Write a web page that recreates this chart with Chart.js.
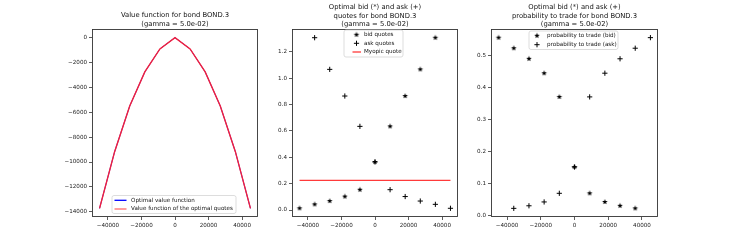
<!DOCTYPE html>
<html lang="en">
<head>
    <meta charset="UTF-8">
    <title>Optimal quotes for bond BOND.3</title>
    <style>
        * {
            margin: 0;
            padding: 0;
            box-sizing: border-box;
        }
        body {
            background-color: #fff;
        }
        .figure {
            position: relative;
            width: 731px;
            height: 244px;
        }
        .figure canvas {
            position: absolute;
            left: 0;
            top: 0;
        }
    </style>
</head>
<body>

<div class="figure">
    <canvas id="valueChart" width="731" height="244"></canvas>
    <canvas id="quotesChart" width="731" height="244"></canvas>
    <canvas id="probaChart" width="731" height="244"></canvas>
</div>

<script src="https://cdn.jsdelivr.net/npm/chart.js@4.4.0/dist/chart.umd.min.js"></script>

<script>
// inventory grid (x axis of every panel)
const inventory = [-45000, -36000, -27000, -18000, -9000, 0, 9000, 18000, 27000, 36000, 45000];

// panel 1 - value function
const optimalValue = [-13730, -9170, -5500, -2760, -910, 0, -910, -2760, -5500, -9170, -13730];
const quotesValue  = [-13730, -9170, -5500, -2760, -910, 0, -910, -2760, -5500, -9170, -13730];

// panel 2 - quotes
const bidQuotes = [0.013, 0.043, 0.068, 0.102, 0.154, 0.364, 0.634, 0.864, 1.066, 1.306, null];
const askQuotes = [null, 1.306, 1.066, 0.864, 0.634, 0.364, 0.154, 0.102, 0.068, 0.043, 0.013];
const myopicQuote = 0.225;

// panel 3 - probability to trade
const bidProba = [0.556, 0.523, 0.490, 0.445, 0.371, 0.152, 0.070, 0.043, 0.031, 0.023, null];
const askProba = [null, 0.023, 0.031, 0.043, 0.070, 0.152, 0.371, 0.445, 0.490, 0.523, 0.556];

// tick labels
const xTicks = [-40000, -20000, 0, 20000, 40000];
const yTicksValue = [0, -2000, -4000, -6000, -8000, -10000, -12000, -14000];
const yTicksQuotes = [0.0, 0.2, 0.4, 0.6, 0.8, 1.0, 1.2];
const yTicksProba = [0.0, 0.1, 0.2, 0.3, 0.4, 0.5];

const FONT = "'DejaVu Sans', sans-serif";

function points(values) {
    return inventory.map((q, i) => ({ x: q, y: values[i] }));
}

function fmtInt(v) {
    return v < 0 ? '\u2212' + Math.abs(v) : String(v);
}

// filled star like matplotlib '*'
function makeStar(r) {
    const c = document.createElement('canvas');
    const size = Math.ceil(r * 2 + 2);
    c.width = size;
    c.height = size;
    const ctx = c.getContext('2d');
    ctx.fillStyle = '#000';
    ctx.beginPath();
    for (let k = 0; k < 10; k++) {
        const rad = k % 2 === 0 ? r : r * 0.42;
        const a = -Math.PI / 2 + k * Math.PI / 5;
        const px = size / 2 + rad * Math.cos(a);
        const py = size / 2 + rad * Math.sin(a);
        if (k === 0) ctx.moveTo(px, py); else ctx.lineTo(px, py);
    }
    ctx.closePath();
    ctx.fill();
    return c;
}
const starImg = makeStar(2.9);

// frame, titles and legend drawn like matplotlib
const decorPlugin = {
    id: 'decor',
    afterDraw(chart, args, opts) {
        const ctx = chart.ctx;
        const a = chart.chartArea;
        ctx.save();

        ctx.strokeStyle = '#333';
        ctx.lineWidth = 0.9;
        ctx.strokeRect(a.left + 0.5, a.top + 0.5, a.right - a.left - 1, a.bottom - a.top - 1);

        ctx.fillStyle = '#111';
        ctx.font = '6.8px ' + FONT;
        ctx.textAlign = 'center';
        ctx.textBaseline = 'middle';
        const cx = (a.left + a.right) / 2;
        opts.title.forEach((line, i) => ctx.fillText(line, cx, opts.titleY[i]));

        const lg = opts.legend;
        ctx.beginPath();
        ctx.roundRect(lg.x0, lg.y0, lg.x1 - lg.x0, lg.y1 - lg.y0, 2);
        ctx.fillStyle = 'rgba(255,255,255,0.85)';
        ctx.fill();
        ctx.strokeStyle = '#d4d4d4';
        ctx.lineWidth = 0.8;
        ctx.stroke();

        ctx.font = '5.6px ' + FONT;
        ctx.textAlign = 'left';
        lg.items.forEach((it, i) => {
            const y = lg.rows[i];
            if (it.type === 'line') {
                ctx.strokeStyle = it.color;
                ctx.lineWidth = 1.3;
                ctx.beginPath();
                ctx.moveTo(lg.h0, y);
                ctx.lineTo(lg.h1, y);
                ctx.stroke();
            } else if (it.type === 'star') {
                ctx.drawImage(starImg, lg.mx - starImg.width / 2, y - starImg.height / 2);
            } else {
                ctx.strokeStyle = '#000';
                ctx.lineWidth = 1;
                ctx.beginPath();
                ctx.moveTo(lg.mx - 2.6, y);
                ctx.lineTo(lg.mx + 2.6, y);
                ctx.moveTo(lg.mx, y - 2.6);
                ctx.lineTo(lg.mx, y + 2.6);
                ctx.stroke();
            }
            ctx.fillStyle = '#111';
            ctx.fillText(it.label, lg.tx, y);
        });
        ctx.restore();
    }
};

function axes(left, right, yMin, yMax, yTicks, yFmt) {
    const tickFont = { family: FONT, size: 5.6 };
    const grid = { display: true, drawOnChartArea: false, drawTicks: true, tickLength: 3, color: '#333', lineWidth: 0.8 };
    return {
        layout: { padding: { left: left - 40, right: 731 - right, top: 29, bottom: 7 } },
        scales: {
            x: {
                type: 'linear', min: -49500, max: 49500,
                grid: grid, border: { display: false },
                afterBuildTicks: s => { s.ticks = xTicks.map(v => ({ value: v })); },
                afterFit: s => { s.height = 20; },
                ticks: { font: tickFont, color: '#222', padding: 2, maxRotation: 0, callback: fmtInt }
            },
            y: {
                type: 'linear', min: yMin, max: yMax,
                grid: grid, border: { display: false },
                afterBuildTicks: s => { s.ticks = yTicks.map(v => ({ value: v })); },
                afterFit: s => { s.width = 40; },
                ticks: { font: tickFont, color: '#222', padding: 2, callback: yFmt }
            }
        }
    };
}

function makeChart(id, datasets, ax, decor) {
    new Chart(document.getElementById(id), {
        type: 'scatter',
        data: { datasets: datasets },
        options: Object.assign({
            responsive: false,
            animation: false,
            devicePixelRatio: 1,
            plugins: { legend: { display: false }, tooltip: { enabled: false }, decor: decor }
        }, ax),
        plugins: [decorPlugin]
    });
}

// Panel 1 (blue curve sits under the red one)
makeChart('valueChart', [
    { label: 'Optimal value function', data: points(optimalValue), showLine: true,
      borderColor: '#0000ff', borderWidth: 0.8, pointRadius: 0, order: 2 },
    { label: 'Value function of the optimal quotes', data: points(quotesValue), showLine: true,
      borderColor: '#f0203c', borderWidth: 1.4, pointRadius: 0, order: 1 }
], axes(92, 258, -14420, 690, yTicksValue, fmtInt), {
    title: ['Value function for bond BOND.3', '(gamma = 5.0e-02)'],
    titleY: [15.3, 24],
    legend: {
        x0: 112, y0: 195.5, x1: 236, y1: 213.5, rows: [200.3, 209], h0: 114.5, h1: 126.5, mx: 120, tx: 131,
        items: [
            { type: 'line', color: '#0000ff', label: 'Optimal value function' },
            { type: 'line', color: '#ff6a6a', label: 'Value function of the optimal quotes' }
        ]
    }
});

// Panel 2
makeChart('quotesChart', [
    { label: 'bid quotes', data: points(bidQuotes), pointStyle: starImg, pointRadius: 3 },
    { label: 'ask quotes', data: points(askQuotes), pointStyle: 'cross', pointRadius: 2.6,
      borderColor: '#000', borderWidth: 1 },
    { label: 'Myopic quote', data: [{ x: inventory[0], y: myopicQuote }, { x: inventory[inventory.length - 1], y: myopicQuote }],
      showLine: true, borderColor: '#ff3a3a', borderWidth: 1.3, pointRadius: 0 }
], axes(292, 458, -0.053, 1.372, yTicksQuotes, v => v.toFixed(1)), {
    title: ['Optimal bid (*) and ask (+)', 'quotes for bond BOND.3', '(gamma = 5.0e-02)'],
    titleY: [7.3, 16, 24.5],
    legend: {
        x0: 344, y0: 30, x1: 403, y1: 57, rows: [34.7, 43.3, 52], h0: 352.5, h1: 361, mx: 356.5, tx: 364,
        items: [
            { type: 'star', label: 'bid quotes' },
            { type: 'cross', label: 'ask quotes' },
            { type: 'line', color: '#ff3a3a', label: 'Myopic quote' }
        ]
    }
});

// Panel 3
makeChart('probaChart', [
    { label: 'probability to trade (bid)', data: points(bidProba), pointStyle: starImg, pointRadius: 3 },
    { label: 'probability to trade (ask)', data: points(askProba), pointStyle: 'cross', pointRadius: 2.6,
      borderColor: '#000', borderWidth: 1 }
], axes(491, 658, -0.004, 0.583, yTicksProba, v => v.toFixed(1)), {
    title: ['Optimal bid (*) and ask (+)', 'probability to trade for bond BOND.3', '(gamma = 5.0e-02)'],
    titleY: [7.3, 16, 24.5],
    legend: {
        x0: 529, y0: 31, x1: 618, y1: 49.5, rows: [35.7, 44.7], h0: 532, h1: 541, mx: 537, tx: 547,
        items: [
            { type: 'star', label: 'probability to trade (bid)' },
            { type: 'cross', label: 'probability to trade (ask)' }
        ]
    }
});
</script>

</body>
</html>
